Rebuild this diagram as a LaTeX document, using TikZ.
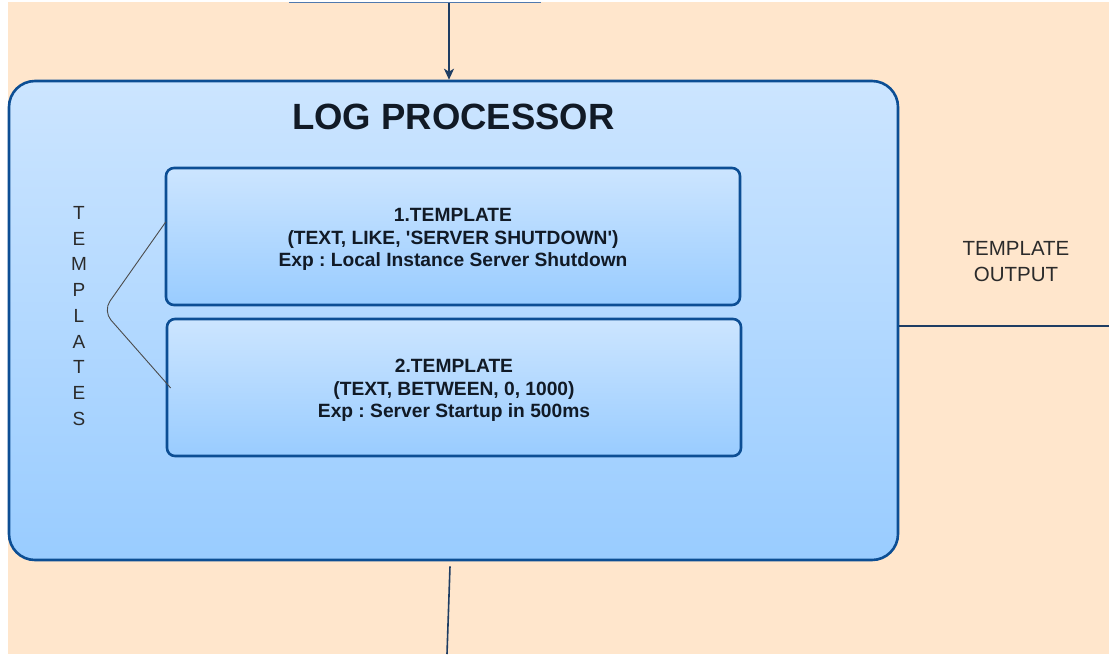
\documentclass[tikz,border=0pt]{standalone}
\usepackage{fontspec}
\setmainfont{Liberation Sans}
\usetikzlibrary{arrows.meta,calc}
\definecolor{peach}{HTML}{FFE6CC}
\definecolor{edgeblue}{HTML}{0C4E94}
\definecolor{boxtop}{HTML}{CCE5FF}
\definecolor{boxbot}{HTML}{99CCFF}
\definecolor{wire}{HTML}{1E3D63}
\definecolor{srcedge}{HTML}{5079AE}
\definecolor{inktext}{HTML}{111A26}
\definecolor{plaintext}{HTML}{2B2B2B}
\begin{document}
\frenchspacing
\begin{tikzpicture}[x=1pt,y=-1pt,
  panel/.style={draw=edgeblue, line width=2.6pt, rounded corners=26pt,
    top color=boxtop, bottom color=boxbot, inner sep=0pt},
  card/.style={draw=edgeblue, line width=2.6pt, rounded corners=8pt,
    top color=boxtop, bottom color=boxbot, minimum width=574pt,
    minimum height=137pt},
  cardtext/.style={align=center, text=inktext,
    font=\bfseries\fontsize{19.2}{22.5}\selectfont},
  wireline/.style={draw=wire, line width=1.6pt},
  bracketline/.style={draw=black!70, line width=0.9pt, rounded corners=12pt},
  plainlabel/.style={align=center, text=plaintext}
]
% page and background
\useasboundingbox (0,0) rectangle (1109,654);
\fill[peach] (0,0) rectangle (1109,654);

% upstream block, only its lower edge shows
\node[draw=srcedge, fill=boxtop, line width=1.5pt, minimum width=250pt,
      minimum height=40pt, anchor=south] (src) at (415,2.5) {};

% white margins
\fill[white] (0,0) rectangle (8,654);
\fill[white] (0,0) rectangle (1109,2);

% main panel
\node[panel, minimum width=889pt, minimum height=479pt] (outer) at (453.5,320.5) {};
\node[font=\bfseries\fontsize{36.5}{40}\selectfont, text=inktext] (title) at (453.5,116.5) {LOG PROCESSOR};

% template cards
\node[card] (card1) at (453,236.5) {};
\node[cardtext] (card1txt) at ([yshift=-3pt]card1.center) {1.TEMPLATE\\(TEXT, LIKE, \textquotesingle SERVER SHUTDOWN\textquotesingle)\\Exp : Local Instance Server Shutdown};
\node[card] (card2) at (454,387.5) {};
\node[cardtext] (card2txt) at ([yshift=-3pt]card2.center) {2.TEMPLATE\\(TEXT, BETWEEN, 0, 1000)\\Exp : Server Startup in 500ms};

% vertical label and its bracket
\node[plainlabel, font=\fontsize{19}{25.75}\selectfont] (tlabel) at (79,316) {T\\E\\M\\P\\L\\A\\T\\E\\S};
\coordinate (apex) at (103,311);
\draw[bracketline] ($(card1.west)+(1,-14.5)$) -- (apex) -- ($(card2.west)+(5,0.5)$);

% output label
\node[plainlabel, font=\fontsize{20.5}{26}\selectfont] (outlbl) at (1016,262) {TEMPLATE\\OUTPUT};

% connectors
\coordinate (inx) at (449,0);
\draw[wireline, -{Stealth[length=11pt,width=10pt,inset=3pt]}] (inx |- src.south) -- (inx |- outer.north);
\coordinate (rend) at (1109,326);
\draw[wireline] (outer.east |- rend) -- (rend);
\coordinate (sink) at (447,654);
\draw[wireline] ([shift={(-3.5,5)}]outer.south) -- (sink);
\end{tikzpicture}
\end{document}
